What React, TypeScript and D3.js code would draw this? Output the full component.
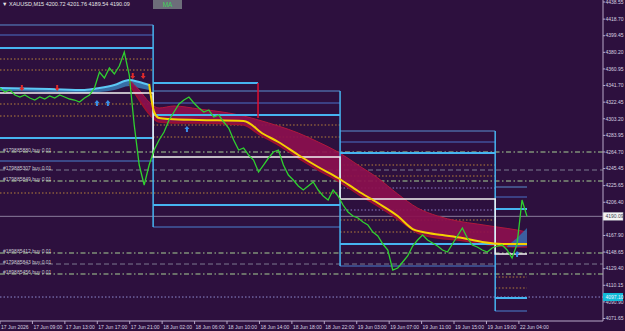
import React from "react";
import * as d3 from "d3";

// ---------- DATA ----------
const closes = [
  4338.85, 4334.21, 4336.53, 4330.74, 4328.42, 4330.74, 4327.26, 4324.94, 4328.42, 4326.10,
  4329.58, 4327.26, 4330.74, 4328.42, 4326.10, 4324.94, 4322.62, 4327.26, 4330.74, 4338.85,
  4357.40, 4350.44, 4362.04, 4355.08, 4364.35, 4380.58, 4353.92, 4295.96, 4249.58, 4226.40,
  4249.58, 4266.97, 4278.57, 4287.84, 4301.75, 4311.03, 4320.30, 4324.94, 4328.42, 4321.46,
  4315.66, 4311.03, 4313.35, 4305.23, 4307.55, 4299.43, 4292.48, 4278.57, 4266.97, 4269.29,
  4261.18, 4255.38, 4241.47, 4249.58, 4257.70, 4264.65, 4266.97, 4249.58, 4237.99, 4232.19,
  4225.24, 4220.60, 4225.24, 4229.88, 4220.60, 4213.65, 4209.01, 4220.60, 4213.65, 4203.21,
  4195.10, 4190.46, 4188.14, 4183.50, 4180.03, 4171.91, 4167.27, 4158.00, 4151.04, 4127.86,
  4130.18, 4137.13, 4144.09, 4155.68, 4162.64, 4168.43, 4162.64, 4159.16, 4155.68, 4151.04,
  4148.72, 4158.00, 4167.27, 4176.55, 4164.96, 4156.84, 4154.52, 4151.04, 4148.72, 4153.36,
  4155.68, 4156.84, 4151.04, 4141.77, 4158.00, 4209.01, 4190.09,
];

const timeLabels = [
  "17 Jun 2026", "17 Jun 09:00", "17 Jun 13:00", "17 Jun 17:00", "17 Jun 21:00",
  "18 Jun 02:00", "18 Jun 06:00", "18 Jun 10:00", "18 Jun 14:00", "18 Jun 18:00",
  "18 Jun 22:00", "19 Jun 03:00", "19 Jun 07:00", "19 Jun 11:00", "19 Jun 15:00",
  "19 Jun 19:00", "22 Jun 04:00",
];
const barsPerLabel = 16;

const priceTicks = [
  4438.55, 4418.70, 4399.45, 4380.20, 4360.95, 4341.70, 4322.45, 4303.20, 4283.95, 4264.70,
  4245.45, 4225.65, 4206.40, 4167.90, 4148.65, 4129.40, 4110.15, 4090.90, 4071.65,
];

// session boundaries (sample index)
const sessions = [0, 30.8, 68.4, 99.6, 106];
const boxTopThin1 = [4411.89, 4335.37, 4289.0, 4224.08];
const boxTopThin2 = [4400.29, 4321.46, 4276.25, 4212.49];
const boxTopThick = [4385.22, 4307.55, 4263.5, 4198.57];
const boxBotThick = [4280.89, 4203.21, 4158.0, 4095.4];
const boxBotThin = [4254.22, 4177.71, 4132.5, 4080.33];
const whiteLevels = [4333.05, 4258.86, 4210.17, 4146.41];

const pivotFrom = 30.8;
const pivotTo = 51.9;
const pivotHigh = 4344.65;
const pivotLow = 4304.07;

const dottedOrange = [
  { from: 0, to: 30.8, price: 4372.47 },
  { from: 0, to: 30.8, price: 4359.72 },
  { from: 0, to: 30.8, price: 4320.3 },
  { from: 0, to: 30.8, price: 4306.39 },
  { from: 30.8, to: 68.4, price: 4295.96 },
  { from: 30.8, to: 68.4, price: 4282.04 },
  { from: 0, to: 68.4, price: 4217.12 },
  { from: 68.4, to: 99.6, price: 4249.58 },
  { from: 68.4, to: 99.6, price: 4236.83 },
  { from: 68.4, to: 99.6, price: 4185.82 },
  { from: 68.4, to: 99.6, price: 4171.91 },
  { from: 99.6, to: 106, price: 4119.74 },
  { from: 99.6, to: 106, price: 4106.99 },
];
const dottedLavender = [
  { from: 68.4, to: 99.6, price: 4222.92 },
  { from: 68.4, to: 99.6, price: 4197.41 },
];
const alertLevel = 4096.55;
const alertLabel = "4097.10";

const orderPrices = [4264.65, 4243.79, 4231.04, 4147.58, 4134.81, 4123.22];
const orderIds = ["#179885880", "#179885307", "#179885849", "#189885412", "#179885843", "#189885456"];
const orderSide = "buy";
const orderLots = "0.01";

const ribbonIdx = [26, 28, 30, 32, 35, 40, 46, 49, 52, 56, 60, 64, 68, 72, 76, 80, 84, 88, 92, 96, 100, 104, 106];
const ribbonUpper = [4348.13, 4336.53, 4322.62, 4315.66, 4317.98, 4314.51, 4309.87, 4306.39, 4301.75, 4294.8, 4286.68, 4276.25, 4264.65, 4249.58, 4234.51, 4215.96, 4199.73, 4190.46, 4184.66, 4181.18, 4177.71, 4174.24, 4171.91];
const ribbonLower = [4343.49, 4324.94, 4308.71, 4299.43, 4298.27, 4298.27, 4297.11, 4295.96, 4285.52, 4272.77, 4257.7, 4243.79, 4231.03, 4215.96, 4202.05, 4186.98, 4170.76, 4164.96, 4162.64, 4159.16, 4155.68, 4154.52, 4154.52];

const maIdx = [30, 31, 32, 34, 40, 49, 53, 56, 60, 64, 68, 72, 76, 80, 83, 85, 89, 93, 97, 101, 106];
const maVal = [4343.49, 4311.03, 4304.07, 4302.91, 4301.75, 4300.59, 4285.52, 4276.25, 4261.18, 4247.27, 4234.51, 4219.44, 4205.53, 4190.46, 4175.39, 4171.91, 4168.43, 4164.96, 4160.32, 4158.0, 4158.0];

const blueIdx = [0, 10, 17, 20, 23, 26, 28, 30];
const blueUpper = [4338.85, 4337.69, 4336.53, 4338.85, 4342.33, 4348.13, 4345.81, 4342.33];
const blueLower = [4335.37, 4334.21, 4333.05, 4334.21, 4336.53, 4341.17, 4338.85, 4336.53];

const wedgeIdx = [102, 104, 106];
const wedgeUpper = [4155.68, 4164.96, 4176.55];
const wedgeLower = [4154.52, 4154.52, 4155.68];

const redArrowIdx = [4.4, 11.5, 26.7, 28.8];
const redArrowVal = [4338.85, 4338.85, 4352.76, 4352.76];
const blueArrowIdx = [19.5, 21.7, 37.6, 104];
const blueArrowVal = [4326.1, 4326.1, 4295.96, 4151.04];

const symbol = "XAUUSD,M15";
const ohlc = ["4200.72", "4201.76", "4189.54", "4190.09"];
const lastPrice = 4190.09;

// ---------- LAYOUT ----------
const W = 625;
const H = 331;
const plotRight = 603;
const axisY = 321;

const BG = "#2d103e";
const CYAN = "#46b4f0";
const STEEL = "#5b8fd0";
const FONT = "'Liberation Sans', Arial, sans-serif";

export default function App() {
  const x = d3.scaleLinear().domain([0, closes.length - 1]).range([0, 527]);
  const xb = d3.scaleLinear().domain([0, 260]).range([0, 527]);
  const y = d3.scaleLinear().domain([4071.65, 4438.55]).range([318.5, 2]);

  const priceLine = d3.line<number>().x((_, i) => x(i)).y((d) => y(d)).curve(d3.curveLinear);
  const ribbon = d3
    .area<number>()
    .x((i) => x(ribbonIdx[i]))
    .y0((i) => y(ribbonLower[i]))
    .y1((i) => y(ribbonUpper[i]))
    .curve(d3.curveMonotoneX);
  const ribbonTop = d3.line<number>().x((i) => x(ribbonIdx[i])).y((i) => y(ribbonUpper[i])).curve(d3.curveMonotoneX);
  const ribbonBot = d3.line<number>().x((i) => x(ribbonIdx[i])).y((i) => y(ribbonLower[i])).curve(d3.curveMonotoneX);
  const maLine = d3.line<number>().x((i) => x(maIdx[i])).y((i) => y(maVal[i])).curve(d3.curveMonotoneX);
  const blueArea = d3
    .area<number>()
    .x((i) => x(blueIdx[i]))
    .y0((i) => y(blueLower[i]))
    .y1((i) => y(blueUpper[i]))
    .curve(d3.curveMonotoneX);
  const blueTop = d3.line<number>().x((i) => x(blueIdx[i])).y((i) => y(blueUpper[i])).curve(d3.curveMonotoneX);
  const wedge = d3
    .area<number>()
    .x((i) => x(wedgeIdx[i]))
    .y0((i) => y(wedgeLower[i]))
    .y1((i) => y(wedgeUpper[i]));

  const rIdx = ribbonIdx.map((_, i) => i);
  const mIdx = maIdx.map((_, i) => i);
  const bIdx = blueIdx.map((_, i) => i);
  const wIdx = wedgeIdx.map((_, i) => i);

  const hl = (from: number, to: number, p: number) => ({ x1: x(from), x2: x(to), y1: y(p), y2: y(p) });

  // white step path
  let whitePath = "";
  whiteLevels.forEach((p, s) => {
    const yy = y(p);
    if (s === 0) whitePath += `M${x(sessions[s])},${yy}`;
    else whitePath += `L${x(sessions[s])},${yy}`;
    whitePath += `L${x(sessions[s + 1])},${yy}`;
  });

  const upArrow = (cx: number, cy: number) =>
    `M${cx},${cy - 3} L${cx + 2.5},${cy} L${cx + 1},${cy} L${cx + 1},${cy + 3} L${cx - 1},${cy + 3} L${cx - 1},${cy} L${cx - 2.5},${cy} Z`;
  const downArrow = (cx: number, cy: number) =>
    `M${cx},${cy + 3} L${cx + 2.5},${cy} L${cx + 1},${cy} L${cx + 1},${cy - 3} L${cx - 1},${cy - 3} L${cx - 1},${cy} L${cx - 2.5},${cy} Z`;

  return (
    <svg
      width={W}
      height={H}
      viewBox={`0 0 ${W} ${H}`}
      style={{ position: "absolute", left: 0, top: 0, background: BG, fontFamily: FONT }}
    >
      <rect x={0} y={0} width={W} height={H} fill={BG} />

      {/* dotted orange levels */}
      {dottedOrange.map((d, i) => (
        <line key={"do" + i} {...hl(d.from, d.to, d.price)} stroke="#c8903a" strokeWidth={0.9} strokeDasharray="1.5,2" />
      ))}
      {dottedLavender.map((d, i) => (
        <line key={"dl" + i} {...hl(d.from, d.to, d.price)} stroke="#9a8ad6" strokeWidth={0.9} strokeDasharray="1.5,2" />
      ))}
      <line x1={0} x2={plotRight} y1={y(alertLevel)} y2={y(alertLevel)} stroke="#9a9ae0" strokeWidth={0.9} strokeDasharray="1.5,2" />

      {/* order lines */}
      {orderPrices.map((p, i) => (
        <line
          key={"ol" + i}
          x1={0}
          x2={plotRight}
          y1={y(p)}
          y2={y(p)}
          stroke={i % 3 === 1 ? "#7c7a90" : "#7f9078"}
          strokeWidth={i % 3 === 1 ? 1 : 1.5}
          strokeDasharray={i % 3 === 1 ? "5,3" : "5,2.5,1.5,2.5"}
        />
      ))}

      {/* bid line */}
      <line x1={0} x2={plotRight} y1={y(lastPrice)} y2={y(lastPrice)} stroke="#8a7c9c" strokeWidth={1} />

      {/* ribbons */}
      <path d={blueArea(bIdx) || ""} fill="#3a86c0" opacity={0.8} />
      <path d={ribbon(rIdx) || ""} fill="#8c0f4e" opacity={0.92} />
      <path d={ribbonTop(rIdx) || ""} fill="none" stroke="#b0183c" strokeWidth={1} />
      <path d={ribbonBot(rIdx) || ""} fill="none" stroke="#a0102e" strokeWidth={1.5} />
      <path d={wedge(wIdx) || ""} fill="#2f6fb0" opacity={0.85} />

      {/* session boxes */}
      {sessions.slice(0, 4).map((s, i) => (
        <g key={"bx" + i}>
          <line {...hl(s, sessions[i + 1], boxTopThin1[i])} stroke={STEEL} strokeWidth={1} />
          <line {...hl(s, sessions[i + 1], boxTopThin2[i])} stroke="#4a70c8" strokeWidth={1} />
          <line {...hl(s, sessions[i + 1], boxTopThick[i])} stroke={CYAN} strokeWidth={2} />
          <line {...hl(s, sessions[i + 1], boxBotThick[i])} stroke={CYAN} strokeWidth={2} />
          <line {...hl(s, sessions[i + 1], boxBotThin[i])} stroke="#4a80d0" strokeWidth={1} />
          {i > 0 && (
            <line
              x1={x(s)}
              x2={x(s)}
              y1={y(boxTopThin1[i - 1])}
              y2={y(boxBotThin[i])}
              stroke={CYAN}
              strokeWidth={1.5}
            />
          )}
        </g>
      ))}
      <line {...hl(pivotFrom, pivotTo, pivotHigh)} stroke={CYAN} strokeWidth={2} />
      <line x1={x(pivotTo)} x2={x(pivotTo)} y1={y(pivotHigh)} y2={y(pivotLow)} stroke="#e01030" strokeWidth={1.5} />

      {/* white step */}
      <path d={whitePath} fill="none" stroke="#f2f2f2" strokeWidth={1.5} />

      {/* blue MA top */}
      <path d={blueTop(bIdx) || ""} fill="none" stroke="#5cc8f5" strokeWidth={2} />

      {/* yellow MA */}
      <path d={maLine(mIdx) || ""} fill="none" stroke="#f5d000" strokeWidth={2} />

      {/* price */}
      <path d={priceLine(closes) || ""} fill="none" stroke="#2fd12f" strokeWidth={1.3} />

      {/* arrows */}
      {redArrowIdx.map((d, i) => (
        <path key={"ra" + i} d={downArrow(x(d), y(redArrowVal[i]))} fill="#e02a2a" />
      ))}
      {blueArrowIdx.map((d, i) => (
        <path key={"ba" + i} d={upArrow(x(d), y(blueArrowVal[i]) + 4)} fill="#3a8ee8" />
      ))}

      {/* order labels */}
      {orderPrices.map((p, i) => (
        <text key={"otx" + i} x={3} y={y(p)} fontSize={5} fill="#c8c8d0">
          {`${orderIds[i]} ${orderSide} ${orderLots}`}
        </text>
      ))}

      {/* header */}
      <text x={2} y={6} fontSize={5.5} fill="#e6e6e6">
        {`▼ ${symbol}  ${ohlc.join(" ")}`}
      </text>
      <rect x={153} y={0} width={29} height={9} fill="#6d6d7a" />
      <text x={167.5} y={7} fontSize={6.5} fill="#3fd35a" textAnchor="middle">
        MA
      </text>

      {/* axes */}
      <line x1={plotRight} x2={plotRight} y1={0} y2={axisY} stroke="#b8a8c8" strokeWidth={1} />
      <line x1={0} x2={plotRight} y1={axisY} y2={axisY} stroke="#b8a8c8" strokeWidth={1} />
      {priceTicks.map((p, i) => (
        <g key={"pt" + i}>
          <line x1={plotRight} x2={plotRight + 2} y1={y(p)} y2={y(p)} stroke="#b8a8c8" />
          <text x={plotRight + 2.5} y={y(p)} dy="0.35em" fontSize={5} fill="#d8d0e0">
            {p.toFixed(2)}
          </text>
        </g>
      ))}
      {timeLabels.map((t, i) => (
        <g key={"tl" + i}>
          <line x1={xb(i * barsPerLabel)} x2={xb(i * barsPerLabel)} y1={axisY} y2={axisY + 3} stroke="#b8a8c8" />
          <text x={xb(i * barsPerLabel) + 1} y={328.5} fontSize={5} fill="#d8d0e0">
            {t}
          </text>
        </g>
      ))}

      {/* price labels */}
      <rect x={plotRight} y={y(lastPrice) - 4} width={20} height={8} fill="#f4f4f4" stroke="#9a9aa8" strokeWidth={0.5} />
      <text x={plotRight + 2.5} y={y(lastPrice)} dy="0.35em" fontSize={5} fill="#404050">
        {lastPrice.toFixed(2)}
      </text>
      <rect x={plotRight} y={y(alertLevel) - 4} width={20} height={8} fill="#12bcd8" />
      <text x={plotRight + 2.5} y={y(alertLevel)} dy="0.35em" fontSize={5} fill="#f0f0ff">
        {alertLabel}
      </text>
    </svg>
  );
}
